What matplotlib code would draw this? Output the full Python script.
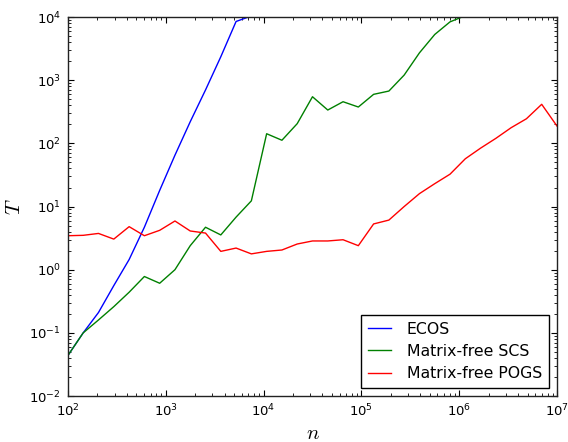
import matplotlib
matplotlib.use("Agg")
import matplotlib.pyplot as plt

# problem size grid (n)
n_vals = [100, 143, 205, 294, 422, 604, 866, 1241, 1778, 2548, 3652,
          5233, 7499, 10746, 15399, 22067, 31623, 45316, 64938, 93057,
          133352, 191095, 273842, 392419, 562341, 805842, 1154782,
          1654817, 2371374, 3398208, 4869675, 6978306, 10000000]

# solve times
ecos_t = [0.044, 0.10, 0.21, 0.56, 1.45, 4.7, 18.0, 65, 220, 700, 2350,
          8500, 10400]
scs_t = [0.044, 0.10, 0.16, 0.26, 0.44, 0.78, 0.61, 1.0, 2.4, 4.7, 3.55,
         6.8, 12.3, 142, 112, 205, 547, 337, 456, 376, 597, 673, 1205,
         2710, 5290, 8380, 10500]
pogs_t = [3.45, 3.5, 3.75, 3.05, 4.8, 3.45, 4.2, 5.9, 4.1, 3.8, 1.95, 2.2,
          1.78, 1.95, 2.05, 2.55, 2.85, 2.85, 2.98, 2.4, 5.3, 6.1, 10.0,
          16.0, 23.0, 32.5, 57, 84, 120, 177, 245, 415, 188]

labels = ["ECOS", "Matrix-free SCS", "Matrix-free POGS"]
colors = ["#0000ff", "#008000", "#ff0000"]

plt.rcParams["xtick.direction"] = "in"
plt.rcParams["ytick.direction"] = "in"
plt.rcParams["xtick.top"] = True
plt.rcParams["ytick.right"] = True

fig = plt.figure(figsize=(5.68, 4.42), dpi=100, facecolor="white")
ax = fig.add_axes([0.1197, 0.104, 0.8609, 0.8575])

series = [ecos_t, scs_t, pogs_t]
for ys, lab, col in zip(series, labels, colors):
    ax.plot(n_vals[:len(ys)], ys, color=col, linewidth=1.0, label=lab)

ax.set_xscale("log")
ax.set_yscale("log")
ax.set_xlim(1e2, 1e7)
ax.set_ylim(1e-2, 1e4)

ax.tick_params(which="major", length=4, width=0.8, labelsize=9.5, pad=5)
ax.tick_params(which="minor", length=2, width=0.6)
for sp in ax.spines.values():
    sp.set_linewidth(1.0)
    sp.set_color("#222222")

ax.set_xlabel("$n$", fontsize=15, math_fontfamily="cm", labelpad=2.5)
ax.set_ylabel("$T$", fontsize=15, math_fontfamily="cm", labelpad=4)

leg = ax.legend(loc="lower right", fontsize=11.3, fancybox=False,
                framealpha=1, edgecolor="black", handlelength=1.5,
                handletextpad=1.0, labelspacing=0.46, borderaxespad=0.5,
                borderpad=0.45)
leg.get_frame().set_linewidth(1.0)

fig.savefig("out.png", dpi=100, facecolor="white")
